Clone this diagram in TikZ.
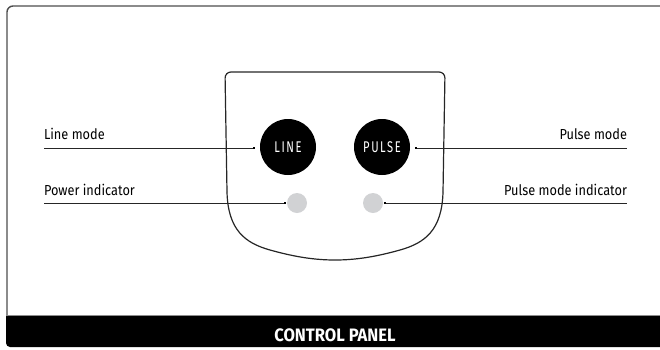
\documentclass[tikz,border=0pt]{standalone}
\usepackage{fontspec}
\setmainfont[FakeStretch=0.88]{Fira Sans}
\newfontfamily\btnfont[FakeStretch=0.72,LetterSpace=10]{Fira Sans}
\newfontfamily\titlefont[FakeStretch=0.92]{Fira Sans}
\usetikzlibrary{positioning}
\definecolor{framegray}{HTML}{4D4D4D}
\definecolor{ledgray}{HTML}{D1D2D4}
\begin{document}
\begin{tikzpicture}[x=1pt,y=-1pt,inner sep=0pt,outer sep=0pt,
button/.style={circle,fill=black,minimum size=56pt,text=white,font=\btnfont\fontsize{15.5}{15.5}\selectfont},
led/.style={circle,fill=ledgray,minimum size=20pt},
dot/.style={rectangle,fill=black,minimum size=2.6pt},
lbl/.style={font=\fontsize{14.5}{14.5}\selectfont},
leader/.style={draw=black!85,line width=0.9pt}]
\useasboundingbox (0,0) rectangle (660,349);
\clip (0,0) rectangle (660,349);
\fill[black] (690,316) -- (6,316) [rounded corners=4pt] -- (6,347) -- (690,347) -- cycle;
\draw[framegray,line width=1.4pt,rounded corners=6pt] (7,316) -- (7,6) -- (675,6) -- (675,316);
\draw[black!45,line width=1pt] (690,315.8) -- (6,315.8);
\draw[black!85,line width=1.2pt,rounded corners=6pt] (227,192) -- (225,72) -- (445,72) -- (443,192);
\draw[black!85,line width=1.2pt] (227,192) .. controls (228,230) and (245,243) .. (270,250) .. controls (295,257) and (315,260) .. (335,260) .. controls (355,260) and (375,257) .. (400,250) .. controls (425,243) and (442,230) .. (443,192);
\draw (288,147) node[button] (linebtn) {LINE};
\draw (382,147) node[button] (pulsebtn) {PULSE};
\draw (297,203) node[led] (powerled) {};
\draw (373,203) node[led] (pulseled) {};
\draw (254,148) node[dot] (linedot) {};
\draw (416,148) node[dot] (pulsedot) {};
\draw (285,203) node[dot] (powerdot) {};
\draw (385,203) node[dot] (pulseleddot) {};
\coordinate (lineend) at (44,148);
\coordinate (pulseend) at (627,148);
\coordinate (powerend) at (44,203);
\coordinate (pulseledend) at (627,203);
\node[lbl,anchor=base west] (linemode) at (44,139) {Line mode};
\node[lbl,anchor=base east] (pulsemode) at (627,139) {Pulse mode};
\node[lbl,anchor=base west] (powerind) at (44,195) {Power indicator};
\node[lbl,anchor=base east] (pulseind) at (627,195) {Pulse mode indicator};
\draw[leader] (lineend) -- (linedot);
\draw[leader] (pulsedot) -- (pulseend);
\draw[leader] (powerend) -- (powerdot);
\draw[leader] (pulseleddot) -- (pulseledend);
\node[text=white,font=\titlefont\bfseries\fontsize{18}{18}\selectfont,anchor=base] (title) at (335,341) {CONTROL PANEL};
\end{tikzpicture}
\end{document}
